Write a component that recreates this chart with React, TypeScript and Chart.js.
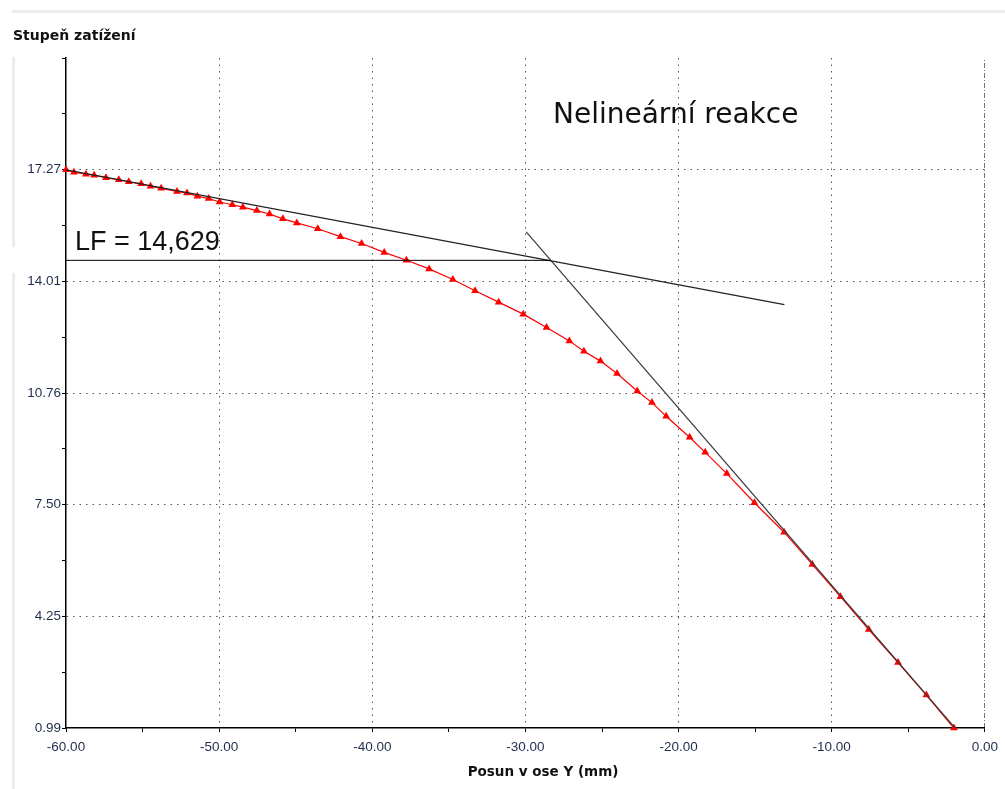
import { useEffect, useRef } from "react";
import { Chart, registerables } from "chart.js";

Chart.register(...registerables);

// Load-displacement path of the nonlinear analysis (displacement in mm, load factor)
const posunY = [
  -60.0, -59.48, -58.7, -58.16, -57.39, -56.55, -55.9, -55.09, -54.48, -53.79,
  -52.75, -52.1, -51.42, -50.68, -49.97, -49.14, -48.45, -47.54, -46.71, -45.84,
  -44.93, -43.56, -42.08, -40.7, -39.22, -37.77, -36.29, -34.74, -33.29, -31.75,
  -30.14, -28.62, -27.13, -26.18, -25.1, -24.02, -22.7, -21.74, -20.81, -19.28,
  -18.26, -16.85, -15.05, -13.11, -11.27, -9.43, -7.58, -5.67, -3.82, -2.02,
];
const stupenZatizeni = [
  17.27, 17.2, 17.14, 17.11, 17.04, 16.98, 16.92, 16.86, 16.79, 16.73,
  16.64, 16.59, 16.5, 16.43, 16.33, 16.25, 16.18, 16.08, 15.98, 15.84,
  15.72, 15.55, 15.32, 15.12, 14.86, 14.63, 14.38, 14.07, 13.74, 13.41,
  13.06, 12.67, 12.28, 11.98, 11.69, 11.33, 10.82, 10.48, 10.08, 9.47,
  9.03, 8.41, 7.56, 6.7, 5.76, 4.82, 3.86, 2.9, 1.95, 0.99,
];

// Tangent at the end of the path (upper line)
const tangentKonecX = [-60.0, -13.09];
const tangentKonecY = [17.27, 13.34];
// Tangent at the start of the path (steep line)
const tangentZacatekX = [-29.95, -1.95];
const tangentZacatekY = [15.46, 0.99];

// Limit load factor from the tangent intersection
const lfValue = 14.629;
const lfLineX = [-60.0, -28.4];
const lfText = "LF = 14,629";

// Axes
const xTickValues = [-60, -55, -50, -45, -40, -35, -30, -25, -20, -15, -10, -5, 0];
const xMin = -60;
const xMax = 0;
const yMajorTicks = [0.99, 4.25, 7.5, 10.76, 14.01, 17.27];
const yMin = 0.99;
const yMax = 20.53;
const zeroLineY = [yMin, yMax];

const titleText = "Nelineární reakce";
const yAxisTitle = "Stupeň zatížení";
const xAxisTitle = "Posun v ose Y (mm)";

const tickColor = "#1e2d4d";
const gridColor = "#555555";

function toPoints(xs: number[], ys: number[]) {
  return xs.map((x, i) => ({ x, y: ys[i] }));
}

function yTickList(): number[] {
  const list: number[] = [];
  yMajorTicks.forEach((v, i) => {
    const next = i + 1 < yMajorTicks.length ? yMajorTicks[i + 1] : yMax;
    list.push(v);
    list.push((v + next) / 2);
  });
  list.push(yMax);
  return list;
}

const textsPlugin = {
  id: "chartTexts",
  beforeDraw(chart: any) {
    const ctx = chart.ctx as CanvasRenderingContext2D;
    ctx.save();
    ctx.fillStyle = "#ffffff";
    ctx.fillRect(0, 0, chart.width, chart.height);
    ctx.strokeStyle = "#ececec";
    ctx.lineWidth = 3;
    ctx.beginPath();
    ctx.moveTo(12, 11.5);
    ctx.lineTo(chart.width, 11.5);
    ctx.moveTo(13.5, 57);
    ctx.lineTo(13.5, 247);
    ctx.moveTo(13.5, 273);
    ctx.lineTo(13.5, chart.height);
    ctx.stroke();
    ctx.restore();
  },
  afterDraw(chart: any) {
    const ctx = chart.ctx as CanvasRenderingContext2D;
    ctx.save();
    ctx.textBaseline = "alphabetic";
    ctx.textAlign = "left";
    ctx.fillStyle = "#111111";

    ctx.font = 'bold 14px "DejaVu Sans"';
    ctx.fillText(yAxisTitle, 13, 39.5);

    ctx.font = '28px "DejaVu Sans"';
    ctx.fillText(titleText, 553, 123);

    ctx.font = '27px "Liberation Sans"';
    ctx.fillText(lfText, 75, 249.5);

    ctx.font = 'bold 13.5px "DejaVu Sans"';
    ctx.textAlign = "center";
    ctx.fillText(xAxisTitle, 543, 776);
    ctx.restore();
  },
};

export default function App() {
  const canvasRef = useRef<HTMLCanvasElement>(null);

  useEffect(() => {
    const canvas = canvasRef.current;
    if (!canvas) return;

    const chart = new Chart(canvas, {
      type: "scatter",
      data: {
        datasets: [
          {
            label: "LF",
            data: toPoints(lfLineX, [lfValue, lfValue]),
            showLine: true,
            borderColor: "#000000",
            borderWidth: 1,
            pointRadius: 0,
            order: 0,
          },
          {
            label: "Tečna konec",
            data: toPoints(tangentKonecX, tangentKonecY),
            showLine: true,
            borderColor: "#222222",
            borderWidth: 1.2,
            pointRadius: 0,
            order: 1,
          },
          {
            label: "Tečna začátek",
            data: toPoints(tangentZacatekX, tangentZacatekY),
            showLine: true,
            borderColor: "#3a3a3a",
            borderWidth: 1.2,
            pointRadius: 0,
            order: 2,
          },
          {
            label: "Nulová osa",
            data: toPoints([0, 0], zeroLineY),
            showLine: true,
            borderColor: "#000000",
            borderWidth: 1,
            borderDash: [5, 2, 1, 2],
            pointRadius: 0,
            order: 3,
          },
          {
            label: "Stupeň zatížení",
            data: toPoints(posunY, stupenZatizeni),
            showLine: true,
            borderColor: "#ff0000",
            borderWidth: 1.2,
            pointStyle: "triangle",
            pointRadius: 4.5,
            pointBorderWidth: 0,
            pointBackgroundColor: "#ff0000",
            clip: false,
            order: 4,
          } as any,
        ],
      },
      options: {
        responsive: false,
        animation: false,
        events: [],
        layout: { padding: { top: 58, right: 18, bottom: 0, left: 0 } },
        plugins: {
          legend: { display: false },
          tooltip: { enabled: false },
          title: { display: false },
        },
        scales: {
          x: {
            type: "linear",
            position: "bottom",
            min: xMin,
            max: xMax,
            afterBuildTicks: (scale: any) => {
              scale.ticks = xTickValues.map((value) => ({ value }));
            },
            afterFit: (scale: any) => {
              scale.height = 61;
            },
            ticks: {
              autoSkip: false,
              maxRotation: 0,
              padding: 7,
              color: tickColor,
              font: { family: "Liberation Sans", size: 13.5 },
              callback: (value: any) => {
                const v = Number(value);
                return v % 10 === 0 ? v.toFixed(2) : "";
              },
            },
            grid: {
              color: (ctx: any) => {
                const v = ctx.tick ? ctx.tick.value : NaN;
                return v % 10 === 0 && v > xMin && v < xMax ? gridColor : "rgba(0,0,0,0)";
              },
              lineWidth: 1,
              tickColor: "#000000",
              tickLength: 4,
              tickWidth: 1,
            },
            border: { color: "#000000", width: 1.5, dash: [1.5, 5] },
          },
          y: {
            type: "linear",
            min: yMin,
            max: yMax,
            afterBuildTicks: (scale: any) => {
              scale.ticks = yTickList().map((value) => ({ value }));
            },
            afterFit: (scale: any) => {
              scale.width = 66;
            },
            ticks: {
              autoSkip: false,
              padding: 1,
              color: tickColor,
              font: { family: "Liberation Sans", size: 13.5 },
              callback: (value: any) => {
                const v = Number(value);
                return yMajorTicks.includes(v) ? v.toFixed(2) : "";
              },
            },
            grid: {
              color: (ctx: any) => {
                const v = ctx.tick ? ctx.tick.value : NaN;
                return yMajorTicks.includes(v) && v > yMin ? gridColor : "rgba(0,0,0,0)";
              },
              lineWidth: 1,
              tickColor: "#000000",
              tickLength: 4,
              tickWidth: 1,
            },
            border: { color: "#000000", width: 1.5, dash: [1.5, 5] },
          },
        },
      },
      plugins: [textsPlugin],
    });

    return () => chart.destroy();
  }, []);

  return (
    <div style={{ position: "absolute", left: 0, top: 0, width: 1005, height: 789, background: "#ffffff" }}>
      <canvas ref={canvasRef} width={1005} height={789} style={{ display: "block" }} />
    </div>
  );
}
